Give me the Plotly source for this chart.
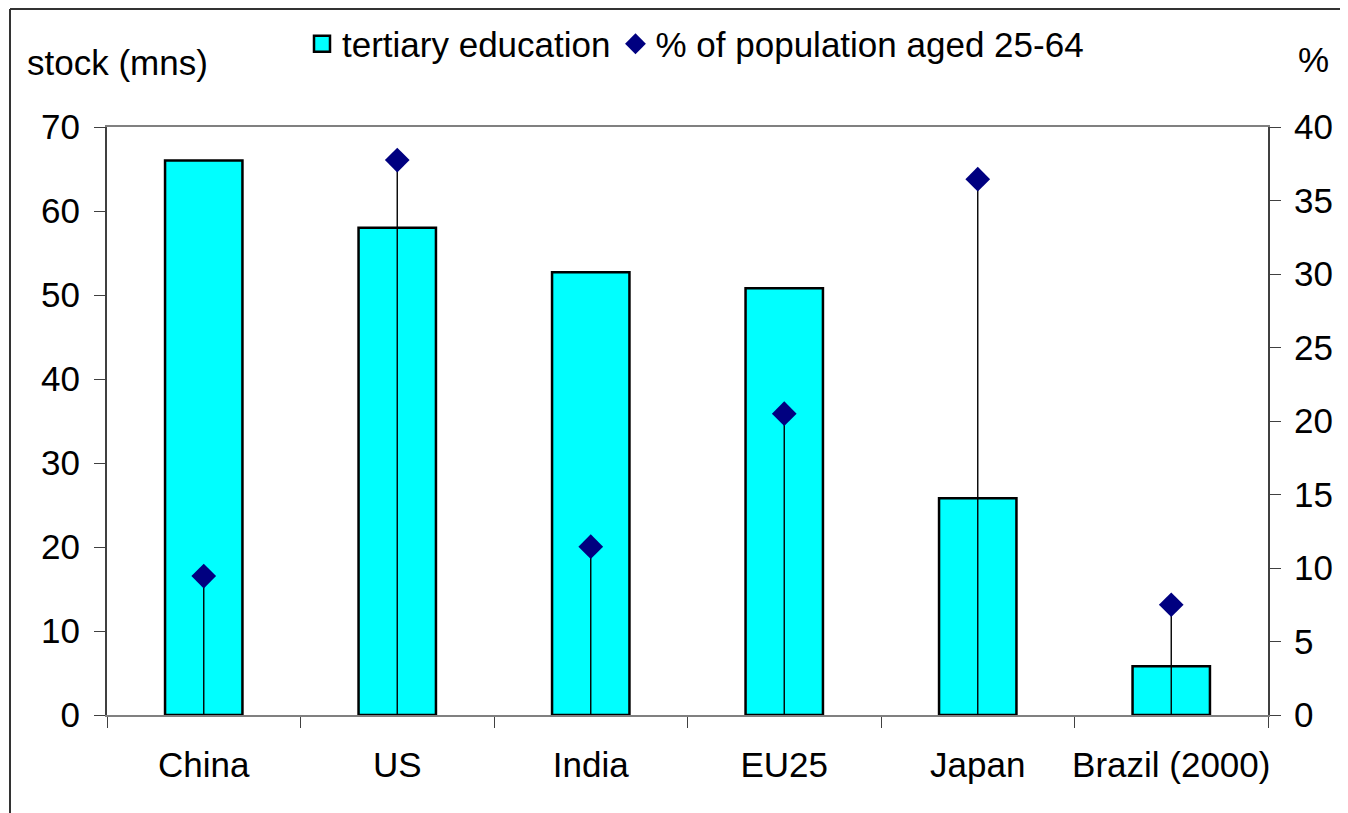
import plotly.graph_objects as go

categories = ["China", "US", "India", "EU25", "Japan", "Brazil (2000)"]
stock_mns = [66.0, 58.0, 52.7, 50.8, 25.8, 5.8]
pct_pop = [9.45, 37.75, 11.45, 20.5, 36.45, 7.5]
left_ticks = [0, 10, 20, 30, 40, 50, 60, 70]
right_ticks = [0, 5, 10, 15, 20, 25, 30, 35, 40]

FONT = "Liberation Sans, Arial, sans-serif"
FS = 35
OFF = 8  # page body margin
W, H = 1348 - OFF, 813 - OFF
# plot area in screen pixels: x 107..1268, y 127..715
L, T = 107 - OFF, 127 - OFF
R, B = W - (1268 - OFF), H - (715 - OFF)
pw, ph = W - L - R, H - T - B


def px(sx):
    return (sx - OFF - L) / pw


def py(sy):
    return 1 + (T - (sy - OFF)) / ph


fig = go.Figure()
fig.add_trace(go.Bar(
    x=categories, y=stock_mns, name="tertiary education",
    marker=dict(color="#00FFFF", line=dict(color="black", width=2.5)),
    width=0.4, yaxis="y", showlegend=False,
))
fig.add_trace(go.Scatter(
    x=categories, y=pct_pop, name="% of population aged 25-64",
    mode="markers", yaxis="y2", showlegend=False,
    marker=dict(symbol="diamond", color="#000080", size=19),
    error_y=dict(type="data", symmetric=False, array=[0] * len(pct_pop),
                 arrayminus=pct_pop, width=0, thickness=1.4, color="black"),
))
# legend entries (no data points)
fig.add_trace(go.Scatter(
    x=[None], y=[None], name="tertiary education", mode="markers",
    marker=dict(symbol="square", color="#00FFFF", size=19,
                line=dict(color="black", width=2.5)),
))
fig.add_trace(go.Scatter(
    x=[None], y=[None], name="% of population aged 25-64", mode="markers",
    marker=dict(symbol="diamond", color="#000080", size=19),
))

axis_font = dict(family=FONT, size=FS, color="black")
frame = dict(color="#333333", width=2)
fig.update_layout(
    width=W, height=H,
    margin=dict(l=L, r=R, t=T, b=B, autoexpand=False),
    paper_bgcolor="white", plot_bgcolor="white",
    font=axis_font,
    showlegend=True,
    legend=dict(orientation="h", x=px(302), xanchor="left", y=py(44),
                yanchor="middle", font=axis_font, bgcolor="rgba(0,0,0,0)",
                itemwidth=30, tracegroupgap=0, itemsizing="trace"),
    xaxis=dict(type="category", categoryarray=categories, range=[-0.5, 5.5],
               showline=True, linecolor="#808080", linewidth=2, mirror=True,
               ticks="outside", tickson="boundaries", ticklen=11, tickcolor="#404040",
               tickwidth=1, showgrid=False, tickfont=axis_font, tickangle=0,
               automargin=False, ticklabelstandoff=18),
    xaxis2=dict(overlaying="x", range=[-0.5, 5.5], tickmode="array",
                tickvals=[i - 0.5 for i in range(len(categories) + 1)],
                ticks="inside", ticklen=11, tickcolor="#404040", tickwidth=1,
                showticklabels=False, showgrid=False, showline=False, zeroline=False,
                automargin=False),
    yaxis=dict(range=[0, 70], tickmode="array", tickvals=left_ticks,
               showline=True, linecolor="#404040", linewidth=2,
               ticks="outside", ticklen=11, tickcolor="#404040", tickwidth=1,
               showgrid=False, zeroline=False, tickfont=axis_font, ticklabelstandoff=7,
               automargin=False),
    yaxis2=dict(range=[0, 40], tickmode="array", tickvals=right_ticks,
                overlaying="y", side="right", anchor="x",
                showline=True, linecolor="#404040", linewidth=2,
                ticks="outside", ticklen=11, tickcolor="#404040", tickwidth=1,
                showgrid=False, zeroline=False, tickfont=axis_font, ticklabelstandoff=6,
                automargin=False),
    yaxis3=dict(range=[0, 70], tickmode="array", tickvals=left_ticks, overlaying="y",
                anchor="x", side="left", ticks="inside", ticklen=11, tickcolor="#404040",
                tickwidth=1, showticklabels=False, showgrid=False, zeroline=False,
                showline=False, automargin=False),
    yaxis4=dict(range=[0, 40], tickmode="array", tickvals=right_ticks, overlaying="y",
                anchor="x", side="right", ticks="inside", ticklen=11, tickcolor="#404040",
                tickwidth=1, showticklabels=False, showgrid=False, zeroline=False,
                showline=False, automargin=False),
    annotations=[
        dict(text="stock (mns)", xref="paper", yref="paper", x=px(25),
             y=py(62), xanchor="left", yanchor="middle", showarrow=False,
             font=axis_font),
        dict(text="%", xref="paper", yref="paper", x=px(1313),
             y=py(60), xanchor="center", yanchor="middle", showarrow=False,
             font=axis_font),
    ],
    shapes=[
        dict(type="line", xref="paper", yref="paper", x0=px(10), x1=px(1400),
             y0=py(OFF + 1), y1=py(OFF + 1), line=frame, layer="below"),
        dict(type="line", xref="paper", yref="paper", x0=px(10), x1=px(10),
             y0=py(OFF + 1), y1=py(900), line=frame, layer="below"),
    ],
)

fig.write_html("out.html")
